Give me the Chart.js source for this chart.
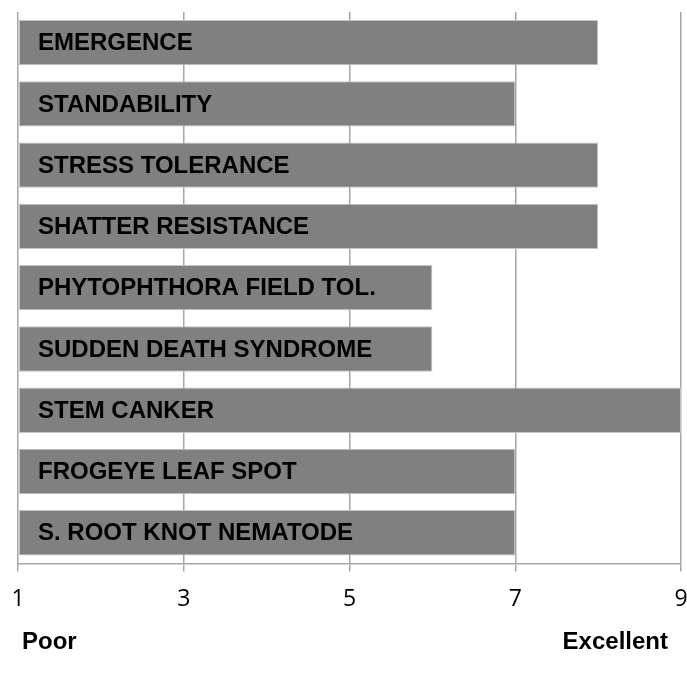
<!DOCTYPE html>
<html>
<head>
<meta charset="utf-8">
<script src="https://cdn.jsdelivr.net/npm/chart.js@4.4.1/dist/chart.umd.min.js"></script>
<style>
  html, body { margin: 0; padding: 0; background: #fff; }
  #wrap { width: 687px; height: 680px; position: relative; }
</style>
</head>
<body>
<div id="wrap"><canvas id="c" width="687" height="680"></canvas></div>
<script>
const categories = [
  "EMERGENCE",
  "STANDABILITY",
  "STRESS TOLERANCE",
  "SHATTER RESISTANCE",
  "PHYTOPHTHORA FIELD TOL.",
  "SUDDEN DEATH SYNDROME",
  "STEM CANKER",
  "FROGEYE LEAF SPOT",
  "S. ROOT KNOT NEMATODE"
];
const ratings = [8, 7, 8, 8, 6, 6, 9, 7, 7];
const tickValues = [1, 3, 5, 7, 9];
const scaleEnds = ["Poor", "Excellent"];

const labelFont = "bold 24px 'Liberation Sans', Arial, sans-serif";

const barLabels = {
  id: 'barLabels',
  afterDatasetsDraw(chart) {
    const ctx = chart.ctx;
    const y = chart.scales.y;
    const area = chart.chartArea;
    ctx.save();
    ctx.font = labelFont;
    ctx.fillStyle = '#000';
    ctx.textBaseline = 'middle';
    ctx.textAlign = 'left';
    categories.forEach((name, i) => {
      ctx.fillText(name, area.left + 20, y.getPixelForValue(i) + 1);
    });
    ctx.restore();
  },
  afterDraw(chart) {
    const ctx = chart.ctx;
    ctx.save();
    ctx.font = labelFont;
    ctx.fillStyle = '#000';
    ctx.textBaseline = 'middle';
    ctx.textAlign = 'left';
    ctx.fillText(scaleEnds[0], 22, 642);
    ctx.textAlign = 'right';
    ctx.fillText(scaleEnds[1], 668, 642);
    ctx.restore();
  }
};

new Chart(document.getElementById('c'), {
  type: 'bar',
  data: {
    labels: categories,
    datasets: [{
      data: ratings,
      base: 1,
      backgroundColor: '#808080',
      borderColor: '#c4c4c4',
      borderWidth: 1,
      borderSkipped: false,
      barPercentage: 0.74,
      categoryPercentage: 1
    }]
  },
  options: {
    indexAxis: 'y',
    responsive: false,
    animation: false,
    devicePixelRatio: 1,
    layout: { padding: { left: 18, right: 6, top: 12, bottom: 53 } },
    plugins: { legend: { display: false }, tooltip: { enabled: false } },
    scales: {
      x: {
        min: 1,
        max: 9,
        afterBuildTicks(scale) { scale.ticks = tickValues.map(v => ({ value: v })); },
        afterFit(scale) { scale.paddingLeft = 0; scale.paddingRight = 0; },
        grid: {
          color: '#a6a6a6',
          lineWidth: 1.5,
          tickLength: 8,
          drawTicks: true
        },
        border: { color: '#a6a6a6', width: 1.5 },
        ticks: {
          color: '#000',
          padding: 14,
          font: { family: "'Open Sans', 'Liberation Sans', sans-serif", size: 23 },
          maxRotation: 0
        }
      },
      y: {
        display: false,
        grid: { display: false }
      }
    }
  },
  plugins: [barLabels]
});
</script>
</body>
</html>
